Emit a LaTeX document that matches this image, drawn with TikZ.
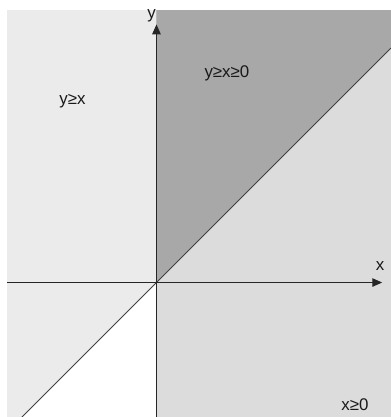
\documentclass[tikz,border=0pt]{standalone}
\usepackage{fontspec}
\setmainfont{Liberation Sans}
\usetikzlibrary{arrows.meta, positioning, calc}

\definecolor{lightA}{HTML}{EBEBEB}
\definecolor{lightB}{HTML}{DCDCDC}
\definecolor{darkC}{HTML}{A8A8A8}

\begin{document}
\begin{tikzpicture}[
        axis/.style={-{Triangle[length=7pt, width=6pt]}, thick, draw=black!85},
        diag/.style={draw=black!75, line width=0.7pt},
        region/.style={font=\fontsize{12}{14}\selectfont, text=black!90, inner sep=1pt},
        axlabel/.style={font=\fontsize{12}{14}\selectfont, text=black!90, inner sep=1pt}
    ]
        \useasboundingbox (-3.91,-3.36) rectangle (5.86,7.06);
        \coordinate (O) at (0,0);
        \coordinate (xmin) at (-3.74,0);
        \coordinate (xmax) at (5.64,0);
        \coordinate (ymin) at (0,-3.36);
        \coordinate (ymax) at (0,6.45);
        \coordinate (dlow) at (-3.45,-3.45);
        \coordinate (dhigh) at (5.86,5.86);
        \fill[lightA] (-3.74,-3.36) rectangle (5.86,6.81);
        \fill[lightB] (0,-3.36) rectangle (5.86,6.81);
        \fill[darkC] (O) -- (dhigh) -- (5.86,6.81) -- (0,6.81) -- cycle;
        \fill[white] (O) -- (ymin) -- (-3.36,-3.36) -- cycle;
        \begin{scope}
            \clip (-3.74,-3.36) rectangle (5.86,6.81);
            \draw[diag] (dlow) -- (dhigh);
        \end{scope}
        \draw[axis] (xmin) -- (xmax);
        \draw[axis] (ymin) -- (ymax);
        \node[axlabel] (xlab) at (5.59,0.41) {x};
        \node[axlabel] (ylab) at (-0.12,6.66) {y};
        \node[region] (left) at (-2.1,4.54) {y≥x};
        \node[region] (upper) at (1.76,5.22) {y≥x≥0};
        \node[region] (lower) at (4.96,-3.06) {x≥0};
    \end{tikzpicture}
\end{document}
